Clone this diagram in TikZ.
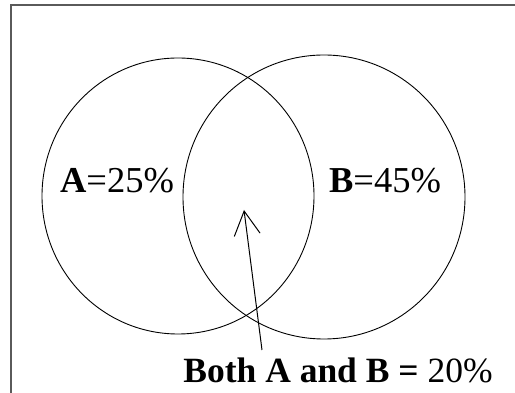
\documentclass[tikz,border=0pt]{standalone}
\usepackage{fontspec}
\setmainfont{Liberation Serif}
\usetikzlibrary{arrows.meta}
\definecolor{FrameGray}{RGB}{90,90,90}
\tikzset{
  set/.style={draw=black,line width=0.9pt},
  frame/.style={draw=FrameGray,line width=1.6pt},
  lbl/.style={anchor=base,inner sep=0pt,font=\fontsize{36.5}{42}\selectfont},
  pointer/.style={draw=black,line width=1pt,-{Straight Barb[length=24pt,width=26pt,line width=1pt]}},
}
\begin{document}
\begin{tikzpicture}[x=1pt,y=1pt]
\useasboundingbox (0,0) rectangle (515,393);
\draw[frame] (11,0)--(11,388)--(515,388);
% the two sets
\draw[set] (178,197) ellipse (136 and 138);
\draw[set] (324,196) ellipse (141 and 142);
\node[lbl] (labA) at (117,200) {\textbf{A}=25\%};
\node[lbl] (labB) at (385,200) {\textbf{B}=45\%};
\node[lbl,font=\fontsize{35.5}{42}\selectfont] (labAB) at (338,10) {\textbf{Both A and B =} 20\%};
\coordinate (tail) at (262,43);
\coordinate (tip) at (244,183);
\draw[pointer] (tail)--(tip);
\end{tikzpicture}
\end{document}
